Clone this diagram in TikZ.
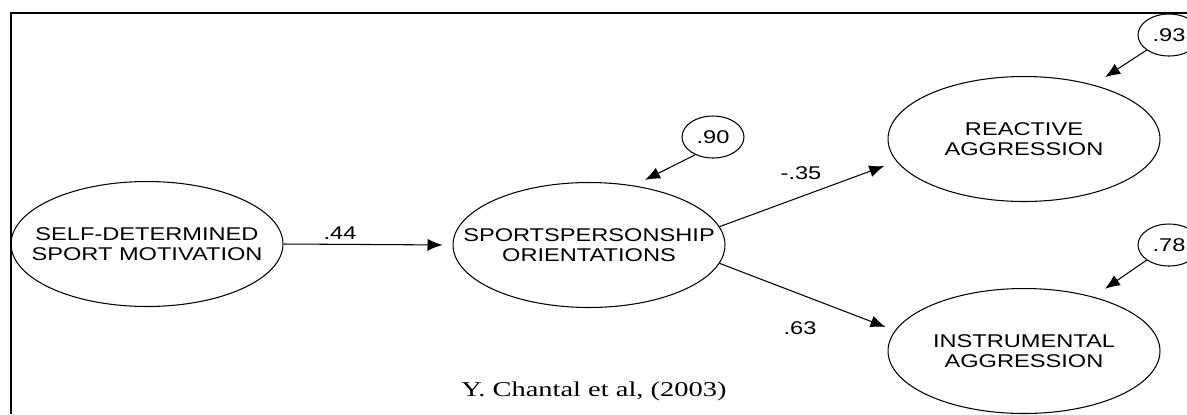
\documentclass[tikz,border=0pt]{standalone}
\usepackage{fontspec}
\newfontfamily\diagfont{Liberation Sans}[FakeStretch=1.28]
\newfontfamily\citefont{Liberation Serif}[FakeStretch=1.35]
\usetikzlibrary{shapes.geometric,arrows.meta}
\tikzset{%
  latent/.style = {shape=ellipse, draw, line width=0.6pt, align=center,%
                   inner xsep=-0.7cm, inner ysep=0pt,%
                   minimum width=5.44cm, minimum height=2.5cm},%
  resid/.style  = {shape=ellipse, draw, line width=0.6pt, inner sep=0pt,%
                   minimum width=1.24cm, minimum height=0.84cm},%
  effect/.style = {draw, line width=0.6pt, -{Latex[length=3mm,width=2.4mm]}},%
  citation/.style = {font=\citefont\fontsize{12}{14}\selectfont}%
}

\begin{document}
\begin{tikzpicture}[x=0.02cm, y=-0.02cm, every node/.style = {font=\diagfont\fontsize{10.5}{11.5}\selectfont}]%
	\useasboundingbox (0,0) rectangle (1187,414);%
	\draw[line width=1.2pt] (11,414) -- (11,13) -- (1187,13);%
	% latent variables
	\node [latent] (sdm) at (147,244) {SELF-DETERMINED\\SPORT MOTIVATION};%
	\node [latent] (so)  at (589,245) {SPORTSPERSONSHIP\\ORIENTATIONS};%
	\node [latent] (ra)  at (1024,139) {REACTIVE\\AGGRESSION};%
	\node [latent] (ia)  at (1024,351) {INSTRUMENTAL\\AGGRESSION};%
	% residuals
	\node [resid] (e90) at (713,137) {.90};%
	\node [resid] (e93) at (1169,35) {.93};%
	\node [resid] (e78) at (1169,245) {.78};%
	% path coefficients
	\node (c44) at (340,233) {.44};%
	\node (c35) at (801,173) {-.35};%
	\node (c63) at (800,328) {.63};%
	\node [citation] (cite) at (594,391) {Y. Chantal et al, (2003)};%
	% paths
	\draw [effect, shorten >=0.2cm]  (sdm.east) -- (so.west);%
	\draw [effect, shorten >=0.26cm] (so.8) -- (ra.190);%
	\draw [effect, shorten >=0.2cm]  (so.352) -- (ia.171);%
	\draw [effect, shorten >=0.25cm] (e90.225) -- (so.53);%
	\draw [effect, shorten >=0.28cm] (e93.214) -- (ra.38);%
	\draw [effect, shorten >=0.28cm] (e78.214) -- (ia.38);%
\end{tikzpicture}
\end{document}
